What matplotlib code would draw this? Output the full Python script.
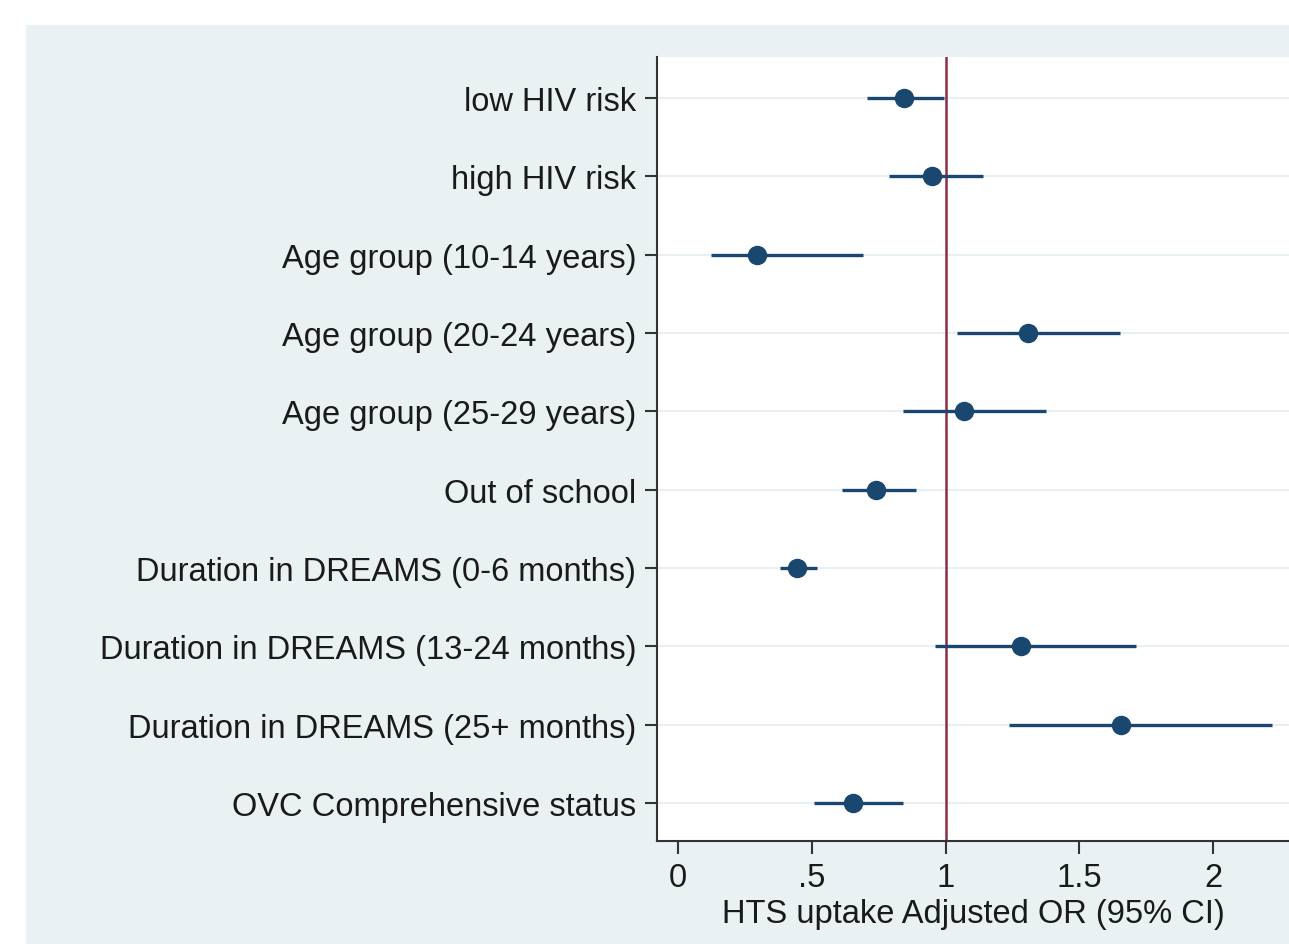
import matplotlib.pyplot as plt
from matplotlib.patches import Rectangle

plt.rcParams['font.family'] = ['Liberation Sans', 'DejaVu Sans']

# Data
labels = ['low HIV risk', 'high HIV risk', 'Age group (10-14 years)',
          'Age group (20-24 years)', 'Age group (25-29 years)', 'Out of school',
          'Duration in DREAMS (0-6 months)', 'Duration in DREAMS (13-24 months)',
          'Duration in DREAMS (25+ months)', 'OVC Comprehensive status']
odds_ratio = [0.843, 0.948, 0.295, 1.308, 1.069, 0.740, 0.445, 1.282, 1.656, 0.654]
ci_low = [0.708, 0.790, 0.123, 1.043, 0.841, 0.613, 0.381, 0.961, 1.237, 0.508]
ci_high = [0.993, 1.139, 0.692, 1.652, 1.376, 0.890, 0.519, 1.712, 2.220, 0.841]
xticks = [0, 0.5, 1, 1.5, 2]
xticklabels = ['0', '.5', '1', '1.5', '2']

navy = '#1a476f'
bg = '#eaf1f3'
fs = 23.5

fig = plt.figure(figsize=(12.89, 9.45), dpi=100)
fig.patches.append(Rectangle((26 / 1289, 0), 1, 919 / 945, transform=fig.transFigure,
                             facecolor=bg, edgecolor='none', zorder=-10))

ax = fig.add_axes([657 / 1289, 1 - 842 / 945, 1 - 657 / 1289, (842 - 58) / 945])
ax.set_facecolor('white')

ypos = list(range(1, len(labels) + 1))
for y in ypos:
    ax.axhline(y, color='#e4eef1', lw=1.2, zorder=0)

ax.hlines(ypos, ci_low, ci_high, color=navy, lw=2.4, zorder=3)
ax.plot(odds_ratio, ypos, 'o', color=navy, markersize=13, zorder=4)
ax.axvline(1, color='#8f2c45', lw=1.8, zorder=2)

ax.set_xlim(-0.0785, 2.284)
ax.set_ylim(10.485, 0.475)
ax.set_yticks(ypos)
ax.set_yticklabels(labels, fontsize=fs, color='#1a1a1a')
ax.set_xticks(xticks)
ax.set_xticklabels(xticklabels, fontsize=fs, color='#1a1a1a')
ax.set_xlabel('HTS uptake Adjusted OR (95% CI)', fontsize=fs, color='#1a1a1a', labelpad=4)

ax.tick_params(axis='y', length=9, width=1.5, color='#333333', pad=6)
ax.tick_params(axis='x', length=9, width=1.5, color='#333333', pad=6)
for side in ['top', 'right']:
    ax.spines[side].set_visible(False)
for side in ['left', 'bottom']:
    ax.spines[side].set_color('#333333')
    ax.spines[side].set_linewidth(1.5)

fig.savefig('out.png', dpi=100)
